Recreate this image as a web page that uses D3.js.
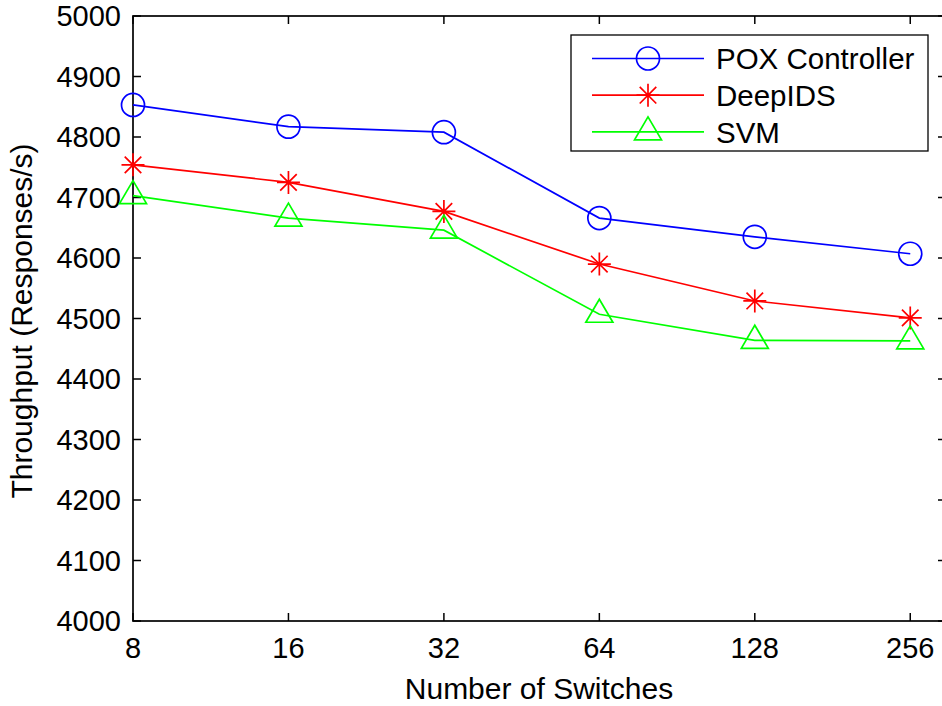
<!DOCTYPE html>
<html>
<head>
<meta charset="utf-8">
<script src="https://cdn.jsdelivr.net/npm/d3@7"></script>
<style>
  html, body { margin: 0; padding: 0; background: #fff; overflow: hidden; }
  svg { display: block; font-family: "Liberation Sans", Arial, Helvetica, sans-serif; }
</style>
</head>
<body>
<svg id="chart" width="942" height="706"></svg>
<script>
const categories = ["8", "16", "32", "64", "128", "256"];
const yTicks = [4000, 4100, 4200, 4300, 4400, 4500, 4600, 4700, 4800, 4900, 5000];
const poxValues = [4853, 4817, 4808, 4666, 4635, 4607];
const deepIdsValues = [4754, 4725, 4677, 4590, 4529, 4501];
const svmValues = [4703, 4666, 4646, 4507, 4464, 4463];
const seriesNames = ["POX Controller", "DeepIDS", "SVM"];

(function () {
const series = [
  { name: seriesNames[0], values: poxValues, color: "#0000ff", marker: "circle" },
  { name: seriesNames[1], values: deepIdsValues, color: "#ff0000", marker: "star" },
  { name: seriesNames[2], values: svmValues, color: "#00ff00", marker: "triangle" }
];

const svg = d3.select("#chart");
const pLeft = 133, pRight = 946, pTop = 16, pBottom = 621;
const x = d3.scaleLinear().domain([0, 5.23]).range([pLeft, pRight]);
const y = d3.scaleLinear().domain([4000, 5000]).range([pBottom, pTop]);
const FS_TICK = 29, FS_LAB = 30, FS_LEG = 29.5;
const tickLen = 8;
const LW = 1.7;

function drawMarker(g, type, cx, cy, color) {
  if (type === "circle") {
    g.append("circle").attr("cx", cx).attr("cy", cy).attr("r", 11.5)
      .attr("fill", "none").attr("stroke", color).attr("stroke-width", LW);
  } else if (type === "star") {
    const r = 11.5, d = r * 0.72;
    const p = `M${cx - r},${cy}L${cx + r},${cy}M${cx},${cy - r}L${cx},${cy + r}` +
      `M${cx - d},${cy - d}L${cx + d},${cy + d}M${cx - d},${cy + d}L${cx + d},${cy - d}`;
    g.append("path").attr("d", p).attr("fill", "none").attr("stroke", color).attr("stroke-width", LW);
  } else {
    const hw = 13.5;
    const p = `M${cx},${cy - 15}L${cx + hw},${cy + 8}L${cx - hw},${cy + 8}Z`;
    g.append("path").attr("d", p).attr("fill", "none").attr("stroke", color).attr("stroke-width", LW);
  }
}

const axisG = svg.append("g");
axisG.append("rect").attr("x", pLeft).attr("y", pTop).attr("width", pRight - pLeft).attr("height", pBottom - pTop)
  .attr("fill", "none").attr("stroke", "#000").attr("stroke-width", 1.7);

yTicks.forEach(v => {
  const yy = y(v);
  axisG.append("line").attr("x1", pLeft).attr("x2", pLeft + tickLen).attr("y1", yy).attr("y2", yy)
    .attr("stroke", "#000").attr("stroke-width", 1.5);
  axisG.append("line").attr("x1", pRight).attr("x2", pRight - tickLen).attr("y1", yy).attr("y2", yy)
    .attr("stroke", "#000").attr("stroke-width", 1.5);
  axisG.append("text").attr("x", pLeft - 12).attr("y", yy).attr("dy", "0.36em")
    .attr("text-anchor", "end").attr("font-size", FS_TICK).text(v);
});

categories.forEach((c, i) => {
  const xx = x(i);
  axisG.append("line").attr("x1", xx).attr("x2", xx).attr("y1", pBottom).attr("y2", pBottom - tickLen)
    .attr("stroke", "#000").attr("stroke-width", 1.5);
  axisG.append("line").attr("x1", xx).attr("x2", xx).attr("y1", pTop).attr("y2", pTop + tickLen)
    .attr("stroke", "#000").attr("stroke-width", 1.5);
  axisG.append("text").attr("x", xx).attr("y", 658)
    .attr("text-anchor", "middle").attr("font-size", FS_TICK).text(c);
});

svg.append("text").attr("x", 539).attr("y", 699).attr("text-anchor", "middle")
  .attr("font-size", FS_LAB).text("Number of Switches");
svg.append("text").attr("transform", "translate(32,321) rotate(-90)").attr("text-anchor", "middle")
  .attr("font-size", FS_LAB).text("Throughput (Responses/s)");

const line = d3.line().x((d, i) => x(i)).y(d => y(d));
series.forEach(s => {
  const g = svg.append("g");
  g.append("path").attr("d", line(s.values)).attr("fill", "none")
    .attr("stroke", s.color).attr("stroke-width", LW);
  s.values.forEach((v, i) => drawMarker(g, s.marker, x(i), y(v), s.color));
});

const lg = svg.append("g");
lg.append("rect").attr("x", 571).attr("y", 35).attr("width", 357).attr("height", 116)
  .attr("fill", "#fff").attr("stroke", "#000").attr("stroke-width", 1.3);
series.forEach((s, i) => {
  const ly = 58.5 + i * 36.7;
  lg.append("line").attr("x1", 592).attr("x2", 704).attr("y1", ly).attr("y2", ly)
    .attr("stroke", s.color).attr("stroke-width", LW);
  drawMarker(lg, s.marker, 648, ly, s.color);
  lg.append("text").attr("x", 716).attr("y", ly).attr("dy", "0.36em")
    .attr("font-size", FS_LEG).text(s.name);
});
})();
</script>
</body>
</html>
